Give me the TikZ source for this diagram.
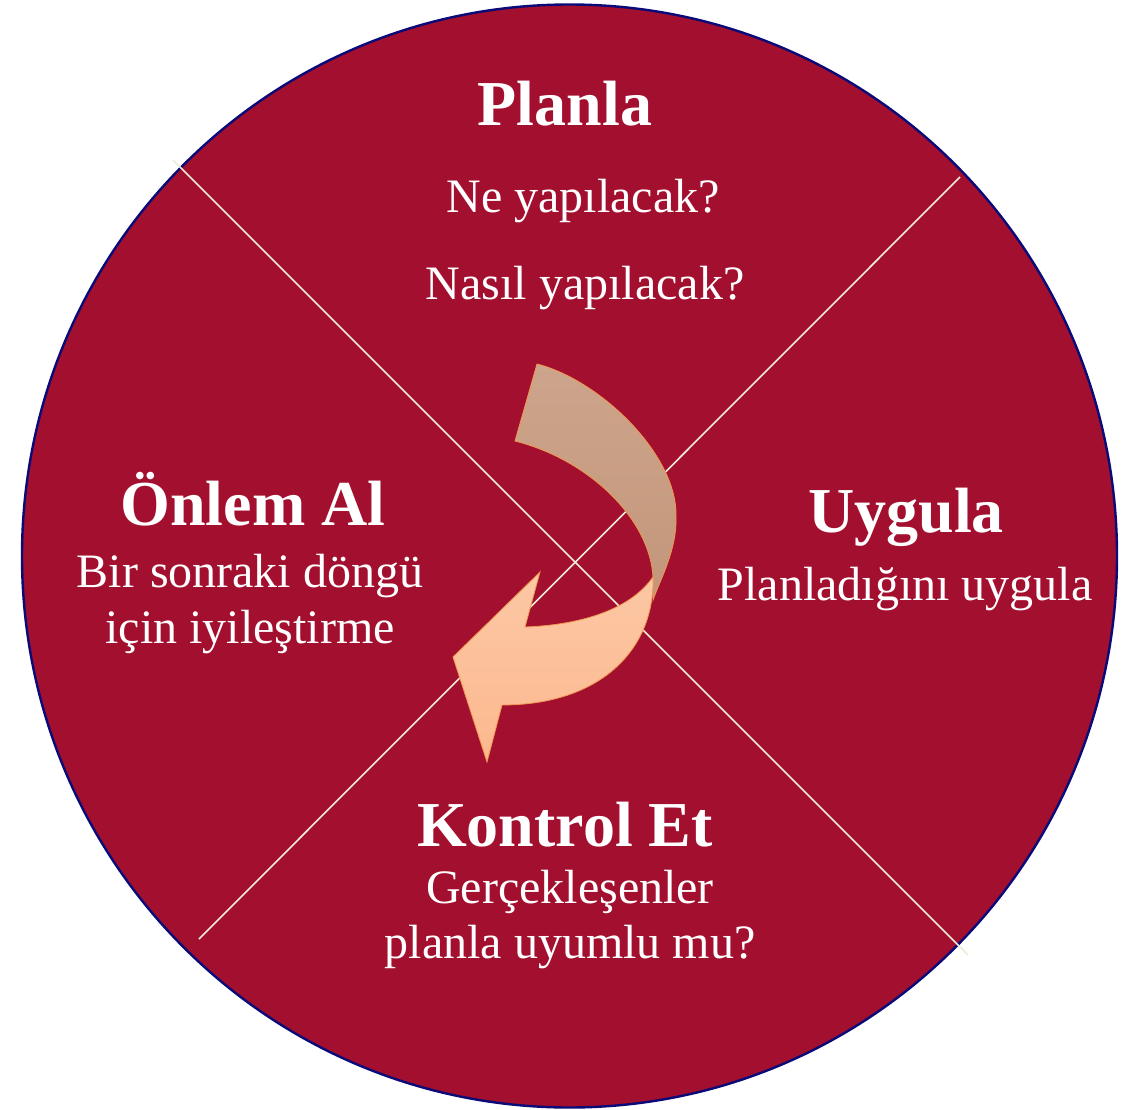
\documentclass[tikz,border=0pt]{standalone}
\usepackage{fontspec}
\setmainfont{Liberation Serif}
\tikzset{
  every picture/.style={x=1pt,y=-1pt},
  head/.style={text=white,font=\fontsize{64}{70}\selectfont\bfseries,anchor=base,inner sep=0pt},
  body/.style={text=white,font=\fontsize{48}{54}\selectfont,anchor=base,inner sep=0pt},
  divider/.style={draw=divcol,line width=1.6pt},
}
\definecolor{wheel}{RGB}{163,15,46}
\definecolor{rim}{RGB}{10,10,120}
\definecolor{divcol}{RGB}{240,234,216}
\definecolor{tanA}{RGB}{205,165,140}
\definecolor{tanB}{RGB}{195,150,122}
\definecolor{peachA}{RGB}{252,200,165}
\definecolor{peachB}{RGB}{252,184,142}
\definecolor{arrowline}{RGB}{240,150,80}
\begin{document}
\begin{tikzpicture}
\useasboundingbox (0,0) rectangle (1140,1110);
\fill[white] (0,0) rectangle (1140,1110);
% wheel
\draw[fill=wheel,draw=rim,line width=2.4pt] (569.5,556) ellipse [x radius=547.5, y radius=551.5];
% dividers
\coordinate (d1a) at (173,160);
\coordinate (d1b) at (968,955);
\coordinate (d2a) at (960,177);
\coordinate (d2b) at (199,939);
\draw[divider] (d1a) -- (d1b);
\draw[divider] (d2a) -- (d2b);
% cycle arrow: upper band
\path[top color=tanA,bottom color=tanB,draw=arrowline,line width=0.8pt]
  (537,364) .. controls (600,380) and (678,455) .. (676,517)
  .. controls (677,550) and (660,580) .. (653,600)
  -- (653,577)
  .. controls (650,520) and (590,460) .. (515,441) -- cycle;
% cycle arrow: lower band with head
\path[top color=peachA,bottom color=peachB,draw=arrowline,line width=0.8pt]
  (653,577) .. controls (655,650) and (600,705) .. (502,705)
  -- (487,762) -- (453,657) -- (540,572) -- (525,627)
  .. controls (580,625) and (630,610) .. (653,577) -- cycle;
% texts
\node[head] (plan) at (565,126) {Planla};
\node[body] (plan1) at (583,213) {Ne yapılacak?};
\node[body] (plan2) at (585,299) {Nasıl yapılacak?};
\node[head] (act) at (253,525) {Önlem Al};
\node[body] (act1) at (250,587) {Bir sonraki döngü};
\node[body] (act2) at (250,643) {için iyileştirme};
\node[head] (do) at (906,532) {Uygula};
\node[body] (do1) at (905,600) {Planladığını uygula};
\node[head] (chk) at (565,846) {Kontrol Et};
\node[body] (chk1) at (570,903) {Gerçekleşenler};
\node[body] (chk2) at (570,958) {planla uyumlu mu?};
\end{tikzpicture}
\end{document}
